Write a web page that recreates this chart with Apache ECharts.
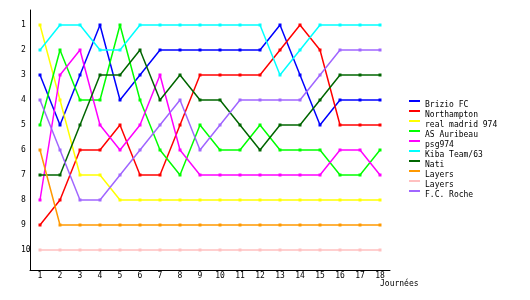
<!DOCTYPE html>
<html>
<head>
<meta charset="utf-8">
<script src="https://cdn.jsdelivr.net/npm/echarts@6/dist/echarts.min.js"></script>
<style>
  html, body { margin: 0; padding: 0; background: #fff; }
  #main { width: 530px; height: 300px; }
</style>
</head>
<body>
<div id="main"></div>
<script>
// journées 1..18
var journees = ['1','2','3','4','5','6','7','8','9','10','11','12','13','14','15','16','17','18'];
var rangs = [1, 2, 3, 4, 5, 6, 7, 8, 9, 10];

var equipes = ['Brizio FC', 'Northampton', 'real madrid 974', 'AS Auribeau', 'psg974',
               'Kiba Team/63', 'Nati', 'Layers', 'Layers ', 'F.C. Roche'];
var couleurs = ['#0000ff', '#ff0000', '#ffff00', '#00ff00', '#ff00ff',
                '#00ffff', '#006600', '#ff9900', '#ffc0c0', '#a066ff'];

var brizio      = [3, 5, 3, 1, 4, 3, 2, 2, 2, 2, 2, 2, 1, 3, 5, 4, 4, 4];
var northampton = [9, 8, 6, 6, 5, 7, 7, 5, 3, 3, 3, 3, 2, 1, 2, 5, 5, 5];
var realMadrid  = [1, 4, 7, 7, 8, 8, 8, 8, 8, 8, 8, 8, 8, 8, 8, 8, 8, 8];
var auribeau    = [5, 2, 4, 4, 1, 4, 6, 7, 5, 6, 6, 5, 6, 6, 6, 7, 7, 6];
var psg974      = [8, 3, 2, 5, 6, 5, 3, 6, 7, 7, 7, 7, 7, 7, 7, 6, 6, 7];
var kiba        = [2, 1, 1, 2, 2, 1, 1, 1, 1, 1, 1, 1, 3, 2, 1, 1, 1, 1];
var nati        = [7, 7, 5, 3, 3, 2, 4, 3, 4, 4, 5, 6, 5, 5, 4, 3, 3, 3];
var layers1     = [6, 9, 9, 9, 9, 9, 9, 9, 9, 9, 9, 9, 9, 9, 9, 9, 9, 9];
var layers2     = [10, 10, 10, 10, 10, 10, 10, 10, 10, 10, 10, 10, 10, 10, 10, 10, 10, 10];
var roche       = [4, 6, 8, 8, 7, 6, 5, 4, 6, 5, 4, 4, 4, 4, 3, 2, 2, 2];

var valeurs = [brizio, northampton, realMadrid, auribeau, psg974, kiba, nati, layers1, layers2, roche];

var police = 'DejaVu Sans Mono';

var series = [];
for (var i = 0; i < equipes.length; i++) {
    series.push({
        name: equipes[i],
        type: 'line',
        data: valeurs[i],
        color: couleurs[i],
        symbol: 'rect',
        symbolSize: 3,
        lineStyle: { width: 1.5 },
        emphasis: { disabled: true }
    });
}

var myChart = echarts.init(document.getElementById('main'));

var option = {
    animation: false,
    backgroundColor: '#fff',
    // nom de l'axe des x, sous la fin de l'axe
    title: {
        text: 'Journées',
        left: 380,
        top: 280,
        padding: 0,
        textStyle: { fontFamily: police, fontSize: 8, fontWeight: 'normal', color: '#000' }
    },
    grid: { left: 30, top: 10, width: 360, height: 260 },
    legend: {
        orient: 'vertical',
        left: 409,
        top: 100,
        padding: 0,
        itemWidth: 11,
        itemHeight: 10,
        itemGap: 0,
        icon: 'path://M0,0H11V2H0Z M0,9.9H0.1V10H0Z',
        textStyle: { fontFamily: police, fontSize: 8, lineHeight: 10, color: '#000' },
        data: equipes
    },
    // axe des journées
    xAxis: {
        type: 'category',
        data: journees,
        boundaryGap: true,
        axisLine: { lineStyle: { color: '#000', width: 1 } },
        axisTick: { show: false },
        axisLabel: { fontFamily: police, fontSize: 8, color: '#000', margin: 2, interval: 0 },
        splitLine: { show: false }
    },
    // classement (1 en haut)
    yAxis: {
        type: 'value',
        inverse: true,
        min: 0.4,
        max: 10.8,
        axisLine: { show: true, lineStyle: { color: '#000', width: 1 } },
        axisTick: { show: false },
        splitLine: { show: false },
        axisLabel: {
            fontFamily: police, fontSize: 8, color: '#000',
            align: 'left', margin: 9,
            customValues: rangs
        }
    },
    series: series
};

myChart.setOption(option);
</script>
</body>
</html>
